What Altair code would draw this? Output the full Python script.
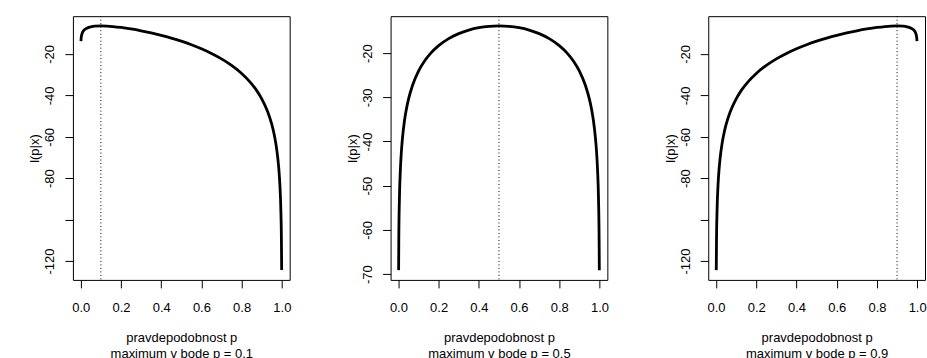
import altair as alt
import pandas as pd

# probability grid (x values)
P = [0.001, 0.002, 0.005, 0.01, 0.015, 0.02, 0.03, 0.04, 0.05, 0.07, 0.1, 0.13,
     0.16, 0.2, 0.25, 0.3, 0.35, 0.4, 0.45, 0.5, 0.55, 0.6, 0.65, 0.7, 0.75, 0.8,
     0.84, 0.87, 0.9, 0.93, 0.95, 0.96, 0.97, 0.98, 0.985, 0.99, 0.995, 0.998, 0.999]

# log-likelihood curves
L1 = [-13.834, -12.465, -10.687, -9.391, -8.671, -8.188, -7.561, -7.173, -6.915, -6.625,
      -6.502, -6.587, -6.804, -7.235, -7.951, -8.828, -9.854, -11.027, -12.358, -13.863,
      -15.569, -17.515, -19.758, -22.385, -25.529, -29.416, -33.335, -37.002, -41.657,
      -48.012, -54.026, -58.021, -63.179, -70.457, -75.625, -82.913, -95.380, -111.867,
      -124.342]
L2 = [-69.088, -62.166, -53.033, -46.152, -42.148, -39.322, -35.371, -32.597, -30.470,
      -27.318, -24.079, -21.795, -20.069, -18.326, -16.740, -15.607, -14.806, -14.271,
      -13.963, -13.863, -13.963, -14.271, -14.806, -15.607, -16.740, -18.326, -20.069,
      -21.795, -24.079, -27.318, -30.470, -32.597, -35.371, -39.322, -42.148, -46.152,
      -53.033, -62.166, -69.088]
L3 = [-124.342, -111.867, -95.380, -82.913, -75.625, -70.457, -63.179, -58.021, -54.026,
      -48.012, -41.657, -37.002, -33.335, -29.416, -25.529, -22.385, -19.758, -17.515,
      -15.569, -13.863, -12.358, -11.027, -9.854, -8.828, -7.951, -7.235, -6.804, -6.587,
      -6.502, -6.625, -6.915, -7.173, -7.561, -8.188, -8.671, -9.391, -10.687, -12.465,
      -13.834]

PMAX = [0.1, 0.5, 0.9]
XTICKS = [0.0, 0.2, 0.4, 0.6, 0.8, 1.0]
YTICKS_A = [-120, -100, -80, -60, -40, -20]
YTICKS_B = [-70, -60, -50, -40, -30, -20]
SUBTITLES = ["maximum v bode p = 0.1", "maximum v bode p = 0.5", "maximum v bode p = 0.9"]

W, H = 217, 264
FONT = "Liberation Sans"


def panel(vals, pmax, ydom, yticks, hide, sub):
    df = pd.DataFrame({"p": P, "l": vals})
    xenc = alt.X(
        "p:Q",
        scale=alt.Scale(domain=[-0.03892, 1.03892], nice=False, zero=False),
        axis=alt.Axis(values=XTICKS, format=".1f", title=["pravdepodobnost p", sub],
                      tickSize=8, labelPadding=14, titlePadding=17, titleLineHeight=16,
                      grid=False, domain=False),
    )
    expr = "datum.value == %d ? '' : '' + datum.value" % hide if hide is not None else "'' + datum.value"
    yenc = alt.Y(
        "l:Q",
        scale=alt.Scale(domain=ydom, nice=False, zero=False),
        axis=alt.Axis(values=yticks, labelExpr=expr, title="l(p|x)", labelAngle=270,
                      labelAlign="center", labelBaseline="bottom", tickSize=8,
                      labelPadding=8, titlePadding=2, grid=False, domain=False),
    )
    line = alt.Chart(df).mark_line(color="black", strokeWidth=2.8, interpolate="monotone").encode(
        x=xenc, y=yenc)
    rule = alt.Chart(pd.DataFrame({"p": [pmax]})).mark_rule(
        color="black", strokeWidth=1, strokeDash=[1, 2.5]).encode(
        x=alt.X("p:Q"), y=alt.value(0), y2=alt.value(H))
    return alt.layer(line, rule).properties(width=W, height=H)


p1 = panel(L1, PMAX[0], [-129.056, -1.789], YTICKS_A, -100, SUBTITLES[0])
p2 = panel(L2, PMAX[1], [-71.297, -11.654], YTICKS_B, None, SUBTITLES[1])
p3 = panel(L3, PMAX[2], [-129.056, -1.789], YTICKS_A, -100, SUBTITLES[2])

chart = alt.hconcat(p1, p2, p3, spacing=101, bounds="flush").properties(
    padding={"left": 28, "top": 15, "right": 0, "bottom": 0},
    background="white",
).configure_view(stroke="black", strokeWidth=1).configure_axis(
    labelFont=FONT, labelFontSize=13, labelColor="black", tickColor="black",
    tickWidth=1, domain=False, grid=False, titleFont=FONT, titleFontSize=13,
    titleFontWeight="normal", titleColor="black"
)

chart.save("out.html", embed_options={"renderer": "svg", "actions": False})
